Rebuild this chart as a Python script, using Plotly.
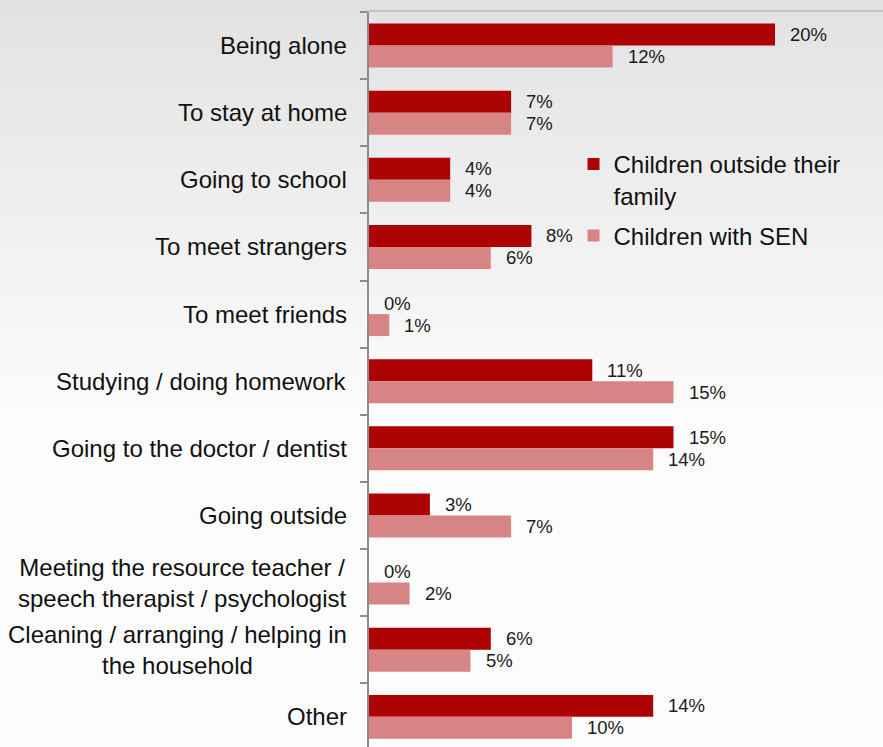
import plotly.graph_objects as go

# Survey answers: situations where children feel uncomfortable (share of respondents, %)
categories = [
    "Being alone",
    "To stay at home",
    "Going to school",
    "To meet strangers",
    "To meet friends",
    "Studying / doing homework",
    "Going to the doctor / dentist",
    "Going outside",
    "Meeting the resource teacher /<br>speech therapist / psychologist",
    "Cleaning / arranging / helping in<br>the household",
    "Other",
]
outside_family = [20, 7, 4, 8, 0, 11, 15, 3, 0, 6, 14]
with_sen = [12, 7, 4, 6, 1, 15, 14, 7, 2, 5, 10]

series_names = ["Children outside their<br>family", "Children with SEN"]
series_colors = ["#AD0303", "#D78484"]

W, H = 883, 747
FONT = "Liberation Sans, Arial, sans-serif"
BARGAP = 0.345

fig = go.Figure()
for name, vals, color, grp in zip(series_names, [outside_family, with_sen], series_colors, ["a", "b"]):
    fig.add_trace(go.Bar(
        y=list(range(len(categories))),
        x=vals,
        orientation="h",
        name=name,
        legendgroup=grp,
        marker=dict(color=color, line=dict(width=0)),
        hoverinfo="skip",
    ))

# Soft grey-to-white vertical gradient behind the chart
shapes = []
steps = 60
top_c = (0xE2, 0xE2, 0xE2)
bot_c = (0xFD, 0xFC, 0xFD)
grad_px = 420
for i in range(steps):
    t = i / (steps - 1)
    c = tuple(round(a + (b - a) * t) for a, b in zip(top_c, bot_c))
    y0 = 1 - (i * grad_px / steps) / H
    y1 = 1 - ((i + 1) * grad_px / steps) / H
    shapes.append(dict(
        type="rect", xref="paper", yref="paper", x0=0, x1=1, y0=y1, y1=y0 + 0.001,
        fillcolor=f"rgb{c}", line=dict(width=0), layer="below",
    ))

annotations = []
# Category labels as centred multi-line annotations at the left of the axis
for i, cat in enumerate(categories):
    annotations.append(dict(
        x=349 / W, xref="paper", y=i, yref="y",
        text=cat, showarrow=False, xanchor="right", yanchor="middle",
        align="center", font=dict(family=FONT, size=24, color="#111111"),
    ))

# Value labels just past the end of each bar
bar_off = (1 - BARGAP) / 4
for vals, dy in [(outside_family, -bar_off), (with_sen, bar_off)]:
    for i, v in enumerate(vals):
        annotations.append(dict(
            x=v, xref="x", y=i + dy, yref="y",
            text=f"{v}%", showarrow=False, xanchor="left", yanchor="middle",
            xshift=13, font=dict(family=FONT, size=18.5, color="#1a1a1a"),
        ))

x_left = 369 / W
px_per_unit = 20.3
x_max = (W - 369) / px_per_unit
cat_px = 67.13
y_top_px = 12

fig.update_layout(
    width=W, height=H,
    margin=dict(l=0, r=0, t=0, b=0),
    paper_bgcolor="#FDFCFD",
    plot_bgcolor="rgba(0,0,0,0)",
    barmode="group",
    bargap=BARGAP,
    bargroupgap=0,
    shapes=shapes,
    annotations=annotations,
    font=dict(family=FONT, color="#111111"),
    showlegend=True,
    legend=dict(
        x=0.6495, y=1 - 142 / H, xanchor="left", yanchor="top",
        bgcolor="rgba(0,0,0,0)", font=dict(family=FONT, size=24, color="#111111"),
        valign="top", tracegroupgap=6, traceorder="grouped",
    ),
    xaxis=dict(
        domain=[x_left, 1], range=[0, x_max], side="top",
        showgrid=False, zeroline=False, showticklabels=False, ticks="",
        showline=True, linecolor="#C4C4C4", linewidth=1.5,
    ),
    yaxis=dict(
        domain=[0, 1 - y_top_px / H],
        range=[-0.5 + (H - y_top_px) / cat_px, -0.5],
        showgrid=False, zeroline=False, showticklabels=False,
        tickmode="array", tickvals=[i - 0.5 for i in range(len(categories) + 1)],
        ticks="outside", ticklen=7, tickcolor="#8C8C8C", tickwidth=1.5,
        showline=True, linecolor="#8C8C8C", linewidth=1.5,
    ),
)

fig.write_html("out.html")
